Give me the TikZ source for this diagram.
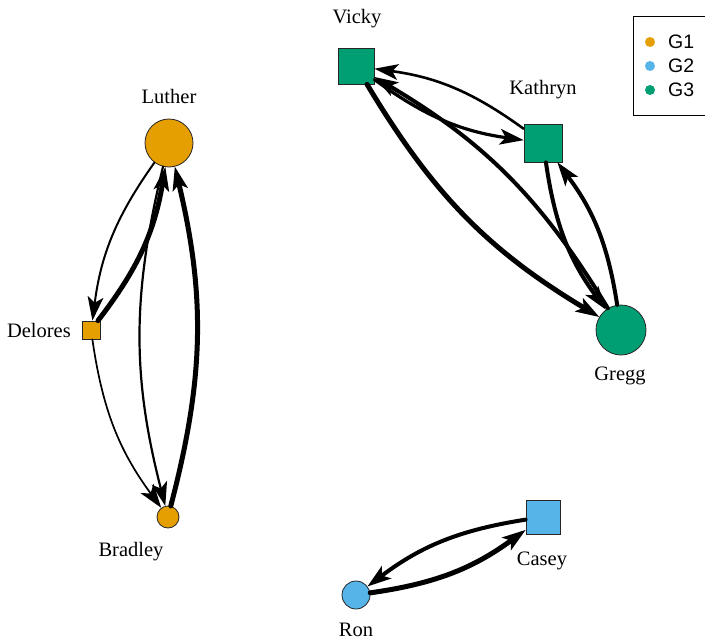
\documentclass[tikz,border=0pt]{standalone}
\usepackage{fontspec}
\setmainfont{Liberation Serif}
\newfontfamily\legendfont{Liberation Sans}
\usetikzlibrary{arrows.meta}
\definecolor{gone}{HTML}{E69F00}
\definecolor{gtwo}{HTML}{56B4E9}
\definecolor{gthree}{HTML}{009E73}
\begin{document}
\begin{tikzpicture}[x=1pt,y=-1pt,
  vtx/.style={draw=black!85,line width=0.8pt,inner sep=0pt},
  vcirc/.style={vtx,circle},
  vsq/.style={vtx,rectangle},
  lbl/.style={font=\fontsize{20.5}{23}\selectfont,inner sep=0pt},
  tip/.tip={Stealth[length=24pt,width=16pt,inset=6pt,line width=0pt]},
  edge/.style={-tip,bend right=14,line cap=round},
  legtxt/.style={font=\legendfont\fontsize{19.5}{22}\selectfont,anchor=west,inner sep=0pt},
]
\useasboundingbox (0,0) rectangle (705,640);
\clip (0,0) rectangle (705,640);
\fill[white] (0,0) rectangle (705,640);

% vertices
\node[vcirc,fill=gone,minimum size=48pt] (luther) at (169,143) {};
\node[vsq,fill=gone,minimum size=18pt] (delores) at (91,330) {};
\node[vcirc,fill=gone,minimum size=22pt] (bradley) at (168,517) {};
\node[vsq,fill=gthree,minimum size=36pt] (vicky) at (356,66) {};
\node[vsq,fill=gthree,minimum size=38pt] (kathryn) at (543,143) {};
\node[vcirc,fill=gthree,minimum size=50pt] (gregg) at (621,330) {};
\node[vsq,fill=gtwo,minimum size=34pt] (casey) at (543,517) {};
\node[vcirc,fill=gtwo,minimum size=28pt] (ron) at (356,595) {};

% vertex labels
\node[lbl] (lluther) at (169,96) {Luther};
\node[lbl,anchor=east] (ldelores) at (71,330) {Delores};
\node[lbl] (lbradley) at (131,552) {Bradley};
\node[lbl] (lvicky) at (357,19) {Vicky};
\node[lbl] (lkathryn) at (543,90) {Kathryn};
\node[lbl] (lgregg) at (620,376) {Gregg};
\node[lbl] (lcasey) at (542,561) {Casey};
\node[lbl] (lron) at (356,630) {Ron};

% edges, group G1
\draw[edge,line width=2pt] (luther) to (delores);
\draw[edge,line width=5pt] (delores) to (luther);
\draw[edge,line width=2.2pt] (luther) to (bradley);
\draw[edge,line width=5pt] (bradley) to (luther);
\draw[edge,line width=1.7pt] (delores) to (bradley);

% edges, group G3
\draw[edge,line width=3.2pt] (vicky) to (kathryn);
\draw[edge,line width=2.6pt] (kathryn) to (vicky);
\draw[edge,line width=5pt] (vicky) to (gregg);
\draw[edge,line width=4pt] (gregg) to (vicky);
\draw[edge,line width=4pt] (kathryn) to (gregg);
\draw[edge,line width=4pt] (gregg) to (kathryn);

% edges, group G2
\draw[edge,line width=5pt] (ron) to (casey);
\draw[edge,line width=4pt] (casey) to (ron);

% legend
\draw[line width=0.8pt] (633,16) rectangle (712,115);
\fill[gone] (650,42) circle (5pt);
\fill[gtwo] (650,66) circle (5pt);
\fill[gthree] (650,90) circle (5pt);
\node[legtxt] (lgone) at (668,42) {G1};
\node[legtxt] (lgtwo) at (668,66) {G2};
\node[legtxt] (lgthree) at (668,90) {G3};
\end{tikzpicture}
\end{document}
